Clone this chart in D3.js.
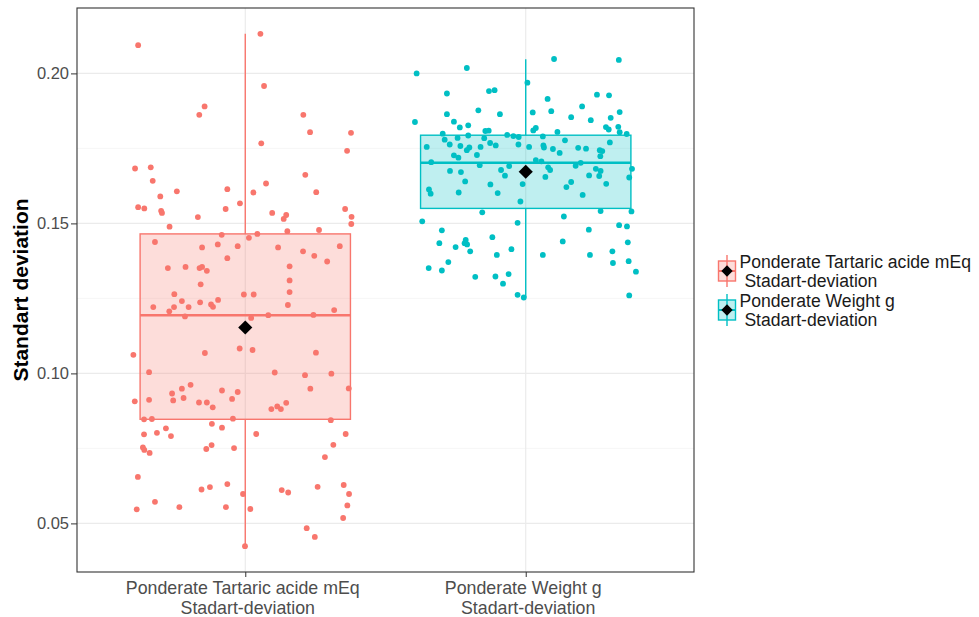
<!DOCTYPE html>
<html>
<head>
<meta charset="utf-8">
<script src="https://cdn.jsdelivr.net/npm/d3@7"></script>
<style>
  html, body { margin: 0; padding: 0; background: #fff; }
  svg { display: block; }
  text { font-family: "Liberation Sans", Arial, Helvetica, sans-serif; white-space: pre; }
</style>
</head>
<body>
<svg id="chart" width="979" height="617"></svg>
<script>
// ---------------- DATA ----------------
const categories = ["Tartaric", "Weight"];
const categoryLabels = [
  ["Ponderate Tartaric acide mEq ", " Stadart-deviation"],
  ["Ponderate Weight g ", " Stadart-deviation"]
];
const legendLabels = [
  ["Ponderate Tartaric acide mEq", " Stadart-deviation"],
  ["Ponderate Weight g", " Stadart-deviation"]
];
const seriesColors = ["#F8766D", "#00BFC4"];

// box statistics
const whiskerLow  = [0.0424, 0.1253];
const q1          = [0.0847, 0.1550];
const medians     = [0.1194, 0.1702];
const q3          = [0.1465, 0.1794];
const whiskerHigh = [0.2132, 0.2047];
const means       = [0.1153, 0.1672];

const yTicks = [0.05, 0.10, 0.15, 0.20];
const yTickLabels = ["0.05", "0.10", "0.15", "0.20"];
const yMinorTicks = [0.075, 0.125, 0.175];
const yDomain = [0.0338, 0.2218];

// jittered points: horizontal jitter (fraction of category step) and value
const tartaricJitter = [-0.382,0.054,0.067,-0.145,-0.164,0.207,0.231,0.377,0.057,0.363,-0.393,-0.337,-0.330,0.214,0.074,-0.064,-0.244,-0.303,0.029,0.253,-0.019,-0.382,-0.360,-0.300,-0.297,-0.070,0.096,0.146,0.137,-0.169,0.356,0.379,0.378,-0.270,0.150,0.263,-0.084,0.043,0.013,-0.322,-0.154,-0.098,-0.027,0.117,0.337,0.206,0.246,0.292,-0.064,-0.276,-0.213,-0.163,-0.154,-0.137,0.158,0.158,-0.159,0.158,-0.253,-0.005,0.030,-0.097,-0.226,-0.161,-0.122,-0.115,-0.328,-0.254,-0.202,0.152,0.317,-0.271,-0.215,0.021,0.082,0.243,-0.399,-0.144,-0.020,0.026,0.252,-0.343,0.105,0.213,0.307,-0.195,-0.226,-0.261,-0.083,-0.027,0.232,0.369,-0.394,-0.343,-0.257,-0.220,-0.165,-0.137,-0.116,-0.047,0.093,0.114,0.127,0.146,-0.361,-0.333,-0.044,0.305,-0.119,-0.083,-0.361,-0.315,-0.283,-0.265,0.039,0.358,-0.365,-0.360,-0.341,-0.139,-0.120,-0.040,0.314,0.284,-0.383,-0.156,-0.126,-0.064,-0.008,0.130,0.153,0.258,0.351,0.370,-0.387,-0.322,-0.235,-0.069,0.018,0.364,0.349,0.219,0.248,-0.001];
const tartaricValues = [0.2094,0.2132,0.1958,0.1890,0.1862,0.1862,0.1804,0.1802,0.1767,0.1742,0.1683,0.1687,0.1642,0.1662,0.1633,0.1614,0.1607,0.1590,0.1603,0.1604,0.1567,0.1554,0.1550,0.1542,0.1535,0.1548,0.1535,0.1528,0.1515,0.1521,0.1548,0.1522,0.1498,0.1489,0.1474,0.1478,0.1462,0.1465,0.1452,0.1438,0.1420,0.1430,0.1424,0.1420,0.1424,0.1407,0.1392,0.1373,0.1384,0.1351,0.1355,0.1351,0.1355,0.1342,0.1357,0.1310,0.1297,0.1271,0.1264,0.1263,0.1263,0.1245,0.1241,0.1237,0.1230,0.1222,0.1221,0.1221,0.1221,0.1228,0.1211,0.1207,0.1190,0.1185,0.1194,0.1195,0.1062,0.1068,0.1083,0.1078,0.1069,0.1004,0.1003,0.0994,0.0999,0.0962,0.0949,0.0933,0.0943,0.0938,0.0949,0.0950,0.0907,0.0912,0.0910,0.0918,0.0903,0.0903,0.0887,0.0915,0.0881,0.0890,0.0881,0.0902,0.0847,0.0848,0.0849,0.0844,0.0832,0.0819,0.0797,0.0802,0.0817,0.0791,0.0798,0.0798,0.0753,0.0745,0.0735,0.0748,0.0761,0.0751,0.0762,0.0721,0.0655,0.0613,0.0621,0.0631,0.0598,0.0611,0.0603,0.0622,0.0628,0.0598,0.0547,0.0572,0.0554,0.0554,0.0548,0.0560,0.0518,0.0484,0.0455,0.0424];

const weightJitter = [-0.389,-0.210,0.101,0.332,0.006,-0.281,-0.131,-0.111,0.078,0.254,0.297,-0.395,-0.281,-0.169,-0.092,0.025,0.091,0.162,0.201,0.232,0.303,0.335,-0.256,-0.235,-0.205,-0.296,-0.132,-0.144,-0.205,-0.289,-0.243,-0.066,-0.044,-0.025,0.027,0.036,0.061,0.113,0.286,0.296,0.330,0.335,0.360,0.140,-0.353,-0.271,-0.233,-0.201,-0.210,-0.161,-0.148,-0.127,-0.107,-0.026,0.012,0.063,0.065,0.097,0.121,0.187,0.215,0.264,0.273,0.266,0.300,-0.256,-0.240,-0.174,-0.337,-0.164,0.036,0.056,0.196,0.379,0.178,-0.270,-0.231,-0.088,-0.059,-0.074,0.080,0.087,0.070,0.250,0.267,0.262,0.226,0.369,-0.216,-0.126,-0.011,0.162,0.145,0.287,-0.345,-0.339,-0.239,-0.100,0.203,-0.019,-0.155,0.267,0.377,-0.369,-0.029,0.136,0.333,0.361,-0.299,0.225,-0.119,-0.308,-0.214,-0.218,-0.209,-0.250,-0.198,-0.051,0.132,0.364,-0.103,0.061,0.229,0.309,-0.276,-0.346,-0.299,0.311,0.367,0.393,-0.180,-0.108,-0.061,-0.081,-0.029,-0.007,0.369];
const weightValues = [0.2000,0.2018,0.2048,0.2045,0.1969,0.1933,0.1941,0.1944,0.1915,0.1929,0.1927,0.1838,0.1864,0.1877,0.1864,0.1870,0.1874,0.1854,0.1890,0.1844,0.1852,0.1871,0.1839,0.1820,0.1827,0.1799,0.1809,0.1808,0.1793,0.1779,0.1785,0.1795,0.1791,0.1788,0.1810,0.1818,0.1790,0.1805,0.1821,0.1813,0.1822,0.1804,0.1798,0.1777,0.1755,0.1763,0.1758,0.1753,0.1744,0.1755,0.1784,0.1768,0.1760,0.1763,0.1755,0.1760,0.1753,0.1748,0.1735,0.1752,0.1749,0.1744,0.1741,0.1724,0.1770,0.1727,0.1719,0.1728,0.1704,0.1694,0.1711,0.1707,0.1702,0.1682,0.1692,0.1675,0.1671,0.1678,0.1691,0.1659,0.1687,0.1678,0.1655,0.1682,0.1675,0.1658,0.1660,0.1653,0.1640,0.1630,0.1631,0.1638,0.1621,0.1632,0.1613,0.1599,0.1603,0.1601,0.1595,0.1573,0.1537,0.1541,0.1540,0.1507,0.1502,0.1523,0.1494,0.1490,0.1477,0.1479,0.1454,0.1434,0.1445,0.1434,0.1430,0.1421,0.1407,0.1414,0.1440,0.1437,0.1395,0.1395,0.1395,0.1407,0.1371,0.1351,0.1343,0.1368,0.1374,0.1339,0.1322,0.1323,0.1331,0.1299,0.1262,0.1253,0.1260];

// ---------------- CHART ----------------
const svg = d3.select("#chart");
const panel = { left: 77, right: 694, top: 8, bottom: 572 };

const x = d3.scalePoint().domain(categories).range([panel.left, panel.right]).padding(0.6);
const y = d3.scaleLinear().domain(yDomain).range([panel.bottom, panel.top]);
const step = x.step();
const boxW = step * 0.75;

const groups = [
  { cat: categories[0], jitter: tartaricJitter, values: tartaricValues, color: seriesColors[0], i: 0 },
  { cat: categories[1], jitter: weightJitter, values: weightValues, color: seriesColors[1], i: 1 }
];

// grid
const grid = svg.append("g");
grid.selectAll("line.minor").data(yMinorTicks).join("line")
  .attr("x1", panel.left).attr("x2", panel.right)
  .attr("y1", d => y(d)).attr("y2", d => y(d))
  .attr("stroke", "#F2F2F2").attr("stroke-width", 0.7);
grid.selectAll("line.major").data(yTicks).join("line")
  .attr("x1", panel.left).attr("x2", panel.right)
  .attr("y1", d => y(d)).attr("y2", d => y(d))
  .attr("stroke", "#EBEBEB").attr("stroke-width", 1.2);
grid.selectAll("line.vmajor").data(categories).join("line")
  .attr("x1", d => x(d)).attr("x2", d => x(d))
  .attr("y1", panel.top).attr("y2", panel.bottom)
  .attr("stroke", "#EBEBEB").attr("stroke-width", 1.2);

// boxes
const boxes = svg.append("g");
groups.forEach(g => {
  const cx = x(g.cat), c = g.color, i = g.i;
  boxes.append("line").attr("x1", cx).attr("x2", cx)
    .attr("y1", y(whiskerHigh[i])).attr("y2", y(q3[i]))
    .attr("stroke", c).attr("stroke-width", 1.4);
  boxes.append("line").attr("x1", cx).attr("x2", cx)
    .attr("y1", y(q1[i])).attr("y2", y(whiskerLow[i]))
    .attr("stroke", c).attr("stroke-width", 1.4);
  boxes.append("rect")
    .attr("x", cx - boxW / 2).attr("width", boxW)
    .attr("y", y(q3[i])).attr("height", y(q1[i]) - y(q3[i]))
    .attr("fill", c).attr("fill-opacity", 0.25)
    .attr("stroke", c).attr("stroke-width", 1.4);
  boxes.append("line")
    .attr("x1", cx - boxW / 2).attr("x2", cx + boxW / 2)
    .attr("y1", y(medians[i])).attr("y2", y(medians[i]))
    .attr("stroke", c).attr("stroke-width", 2.6);
});

// points
const pts = svg.append("g");
groups.forEach(g => {
  pts.selectAll(null).data(g.values.map((v, k) => ({ v, j: g.jitter[k] }))).join("circle")
    .attr("cx", d => x(g.cat) + d.j * step)
    .attr("cy", d => y(d.v))
    .attr("r", 2.9)
    .attr("fill", g.color);
});

// means
const diamond = d3.symbol().type(d3.symbolSquare).size(100);
svg.append("g").selectAll("path").data(categories).join("path")
  .attr("d", diamond)
  .attr("transform", (d, i) => `translate(${x(d)},${y(means[i])}) rotate(45)`)
  .attr("fill", "#000");

// panel border
svg.append("rect")
  .attr("x", panel.left).attr("y", panel.top)
  .attr("width", panel.right - panel.left).attr("height", panel.bottom - panel.top)
  .attr("fill", "none").attr("stroke", "#333").attr("stroke-width", 1.1);

// y axis
const yAxis = svg.append("g").attr("transform", `translate(${panel.left},0)`)
  .call(d3.axisLeft(y).tickValues(yTicks).tickFormat((d, i) => yTickLabels[i]).tickSize(6).tickPadding(2));
yAxis.select(".domain").remove();
yAxis.selectAll(".tick line").attr("stroke", "#333");
yAxis.selectAll(".tick text").attr("fill", "#4D4D4D").style("font-size", "16.5px")
  .style("font-family", '"Liberation Sans", Arial, sans-serif');

// x axis
const xAxis = svg.append("g").attr("transform", `translate(0,${panel.bottom})`)
  .call(d3.axisBottom(x).tickSize(5).tickFormat(""));
xAxis.select(".domain").remove();
xAxis.selectAll(".tick line").attr("stroke", "#333");
categories.forEach((c, i) => {
  const t = svg.append("text").attr("text-anchor", "middle")
    .attr("fill", "#4D4D4D").style("font-size", "17.8px");
  categoryLabels[i].forEach((ln, k) => {
    t.append("tspan").attr("x", x(c)).attr("y", 594 + k * 19.5).text(ln);
  });
});

// y title
svg.append("text")
  .attr("transform", `translate(28,${(panel.top + panel.bottom) / 2}) rotate(-90)`)
  .attr("text-anchor", "middle")
  .style("font-size", "21px").style("font-weight", "bold")
  .attr("fill", "#000")
  .text("Standart deviation");

// legend
const legend = svg.append("g");
const legendTop = [271, 310];
const keyW = 17;
const legendDiamond = d3.symbol().type(d3.symbolSquare).size(64);
groups.forEach(g => {
  const i = g.i, cy = legendTop[i], kx = 727;
  legend.append("line").attr("x1", kx).attr("x2", kx)
    .attr("y1", cy - 16).attr("y2", cy + 16)
    .attr("stroke", g.color).attr("stroke-width", 1.4);
  legend.append("rect").attr("x", kx - keyW / 2).attr("width", keyW)
    .attr("y", cy - 10).attr("height", 20)
    .attr("fill", g.color).attr("fill-opacity", 0.25)
    .attr("stroke", g.color).attr("stroke-width", 1.4);
  legend.append("line").attr("x1", kx - keyW / 2).attr("x2", kx + keyW / 2)
    .attr("y1", cy).attr("y2", cy)
    .attr("stroke", g.color).attr("stroke-width", 2);
  legend.append("path").attr("d", legendDiamond)
    .attr("transform", `translate(${kx},${cy}) rotate(45)`).attr("fill", "#000");
  const t = legend.append("text").attr("fill", "#1a1a1a").style("font-size", "17.6px");
  legendLabels[i].forEach((ln, k) => {
    t.append("tspan").attr("x", 739.5).attr("y", cy - 3 + k * 19).text(ln);
  });
});
</script>
</body>
</html>
